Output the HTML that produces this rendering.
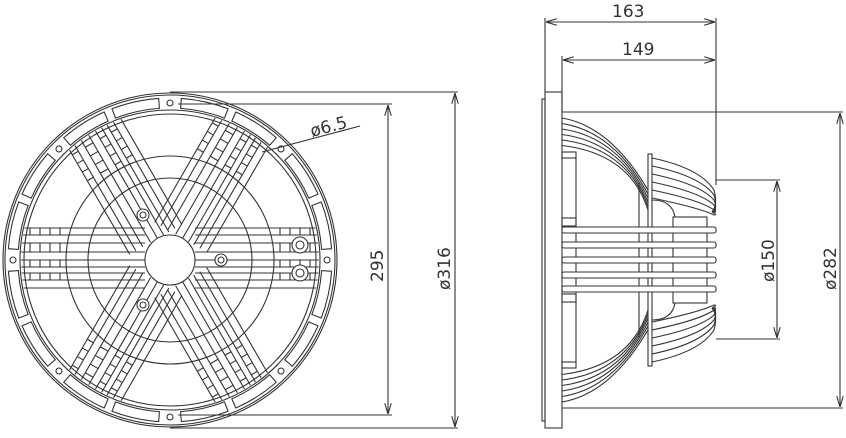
<!DOCTYPE html>
<html><head><meta charset="utf-8"><style>
html,body{margin:0;padding:0;background:#fff;}
svg{display:block;}
text{font-family:"DejaVu Sans","Liberation Sans",sans-serif;fill:#333;}
</style></head><body>
<svg id="s" width="846" height="438" viewBox="0 0 846 438" xmlns="http://www.w3.org/2000/svg" fill="none" stroke="#333" stroke-width="1.1">
<defs>
<clipPath id="cin"><circle cx="170" cy="260" r="149"/></clipPath>
<marker id="ar" viewBox="0 0 10 6" refX="10" refY="3" markerWidth="10" markerHeight="6" orient="auto-start-reverse"><path d="M0,0 L10,3 L0,6" fill="none" stroke="#333" stroke-width="1"/></marker>
</defs>
<!-- front view base -->
<circle cx="170" cy="260" r="167"/>
<circle cx="170" cy="260" r="165"/>
<circle cx="170" cy="260" r="150"/>
<circle cx="170" cy="260" r="146"/>
<circle cx="170" cy="260" r="104"/>
<circle cx="170" cy="260" r="82"/>
<g id="front"></g>
<circle cx="170" cy="260" r="25" fill="#fff"/>
<!-- dims front -->
<line x1="170" y1="92" x2="458" y2="92"/>
<line x1="170" y1="428" x2="458" y2="428"/>
<line x1="178" y1="104" x2="392" y2="104"/>
<line x1="178" y1="415" x2="392" y2="415"/>
<line x1="455" y1="93" x2="455" y2="427" marker-start="url(#ar)" marker-end="url(#ar)"/>
<line x1="388" y1="105" x2="388" y2="414" marker-start="url(#ar)" marker-end="url(#ar)"/>
<text x="0" y="0" font-size="17" stroke="none" transform="translate(383,282) rotate(-90)">295</text>
<text x="0" y="0" font-size="17" stroke="none" transform="translate(450,290) rotate(-90)">ø316</text>
<line x1="262" y1="152" x2="360" y2="126"/>
<text x="0" y="0" font-size="17" stroke="none" transform="translate(312,137) rotate(-15)">ø6.5</text>
<!-- side view -->
<rect x="542" y="99" width="3" height="322"/>
<rect x="545" y="92" width="17" height="336"/>
<rect x="562" y="218" width="14" height="8"/>
<rect x="562" y="294" width="14" height="8"/>
<rect x="562" y="152" width="14" height="6"/>
<rect x="562" y="362" width="14" height="6"/>
<line x1="576" y1="158" x2="576" y2="362"/>
<line x1="639" y1="183" x2="639" y2="337"/>
<rect x="648" y="154" width="4" height="212"/>
<rect x="673" y="217" width="34" height="86"/>
<g id="side"></g>
<!-- dims side -->
<line x1="545" y1="18" x2="545" y2="92"/>
<line x1="716" y1="18" x2="716" y2="185"/>
<line x1="562" y1="56" x2="562" y2="112"/>
<line x1="546" y1="22" x2="715" y2="22" marker-start="url(#ar)" marker-end="url(#ar)"/>
<line x1="563" y1="60" x2="715" y2="60" marker-start="url(#ar)" marker-end="url(#ar)"/>
<text x="612" y="17" font-size="17" stroke="none">163</text>
<text x="622" y="55" font-size="17" stroke="none">149</text>
<line x1="562" y1="112" x2="843" y2="112"/>
<line x1="562" y1="408" x2="843" y2="408"/>
<line x1="840" y1="113" x2="840" y2="407" marker-start="url(#ar)" marker-end="url(#ar)"/>
<line x1="716" y1="180" x2="780" y2="180"/>
<line x1="716" y1="339" x2="780" y2="339"/>
<line x1="777" y1="181" x2="777" y2="338" marker-start="url(#ar)" marker-end="url(#ar)"/>
<text x="0" y="0" font-size="17" stroke="none" transform="translate(774,282) rotate(-90)">ø150</text>
<text x="0" y="0" font-size="17" stroke="none" transform="translate(836,290) rotate(-90)">ø282</text>
</svg>
<script>
(function(){
var cx=170,cy=260,h='';
function P(r,a){a=a*Math.PI/180;return [cx+r*Math.cos(a),cy-r*Math.sin(a)];}
// slots
for(var k=0;k<8;k++){
 var b=k*45;
 [[b+4,b+21],[b+24,b+41]].forEach(function(s){
  var a1=P(152,s[0]),a2=P(152,s[1]),b1=P(162,s[1]),b2=P(162,s[0]);
  h+='<path d="M'+a1+' A152,152 0 0 0 '+a2+' L'+b1+' A162,162 0 0 1 '+b2+' Z"/>';
 });
 var c=P(157,b);h+='<circle cx="'+c[0]+'" cy="'+c[1]+'" r="3"/>';
}
// spokes
var offs=[-32,-25,-17,-8,0,7,13,20,28];
var g='<g clip-path="url(#cin)">';
[0,60,120].forEach(function(ang){
 var t='<g transform="rotate('+(-ang)+' '+cx+' '+cy+')">';
 offs.forEach(function(o){
  t+='<line x1="'+(cx+25)+'" y1="'+(cy+o)+'" x2="'+(cx+150)+'" y2="'+(cy+o)+'"/>';
  t+='<line x1="'+(cx-150)+'" y1="'+(cy+o)+'" x2="'+(cx-25)+'" y2="'+(cy+o)+'"/>';
 });
 for(var x=110;x<150;x+=10){
  [-1,1].forEach(function(sg){
   for(var i=0;i<offs.length-1;i+=2){
    t+='<line x1="'+(cx+sg*x)+'" y1="'+(cy+offs[i])+'" x2="'+(cx+sg*x)+'" y2="'+(cy+offs[i+1])+'"/>';
   }
  });
 }
 t+='</g>';g+=t;
});
g+='</g>';h+=g;
// bosses
[[143,215],[221,260],[143,305]].forEach(function(p){h+='<circle cx="'+p[0]+'" cy="'+p[1]+'" r="6" fill="#fff"/><circle cx="'+p[0]+'" cy="'+p[1]+'" r="3"/>';});
[[300,245],[300,273]].forEach(function(p){h+='<circle cx="'+p[0]+'" cy="'+p[1]+'" r="8" fill="#fff"/><circle cx="'+p[0]+'" cy="'+p[1]+'" r="4"/>';});
document.getElementById('front').innerHTML=h;
// side view curves
var s='';
for(var i=0;i<6;i++){
 var y0=118+i*5.5,y1=172+i*4;
 s+='<path d="M562,'+y0+' Q'+(610+i*4)+','+(y0+8)+' 648,'+(y1+18)+'"/>';
 s+='<path d="M562,'+(520-y0)+' Q'+(610+i*4)+','+(512-y0)+' 648,'+(520-y1-18)+'"/>';
 var z0=158+i*8;
 s+='<path d="M652,'+z0+' Q700,'+(z0+10)+' 714,'+(190+i*5)+' Q718,'+(205+i*2)+' 712,212"/>';
 s+='<path d="M652,'+(520-z0)+' Q700,'+(510-z0)+' 714,'+(330-i*5)+' Q718,'+(315-i*2)+' 712,308"/>';
}
s+='<path d="M652,200 Q672,200 675,217"/><path d="M652,320 Q672,320 675,303"/>';
[230,245,260,275,289].forEach(function(y){s+='<rect x="562" y="'+(y-3)+'" width="154" height="6" rx="2" fill="#fff"/>';});
document.getElementById('side').innerHTML=s;
})();
</script>
</body></html>
